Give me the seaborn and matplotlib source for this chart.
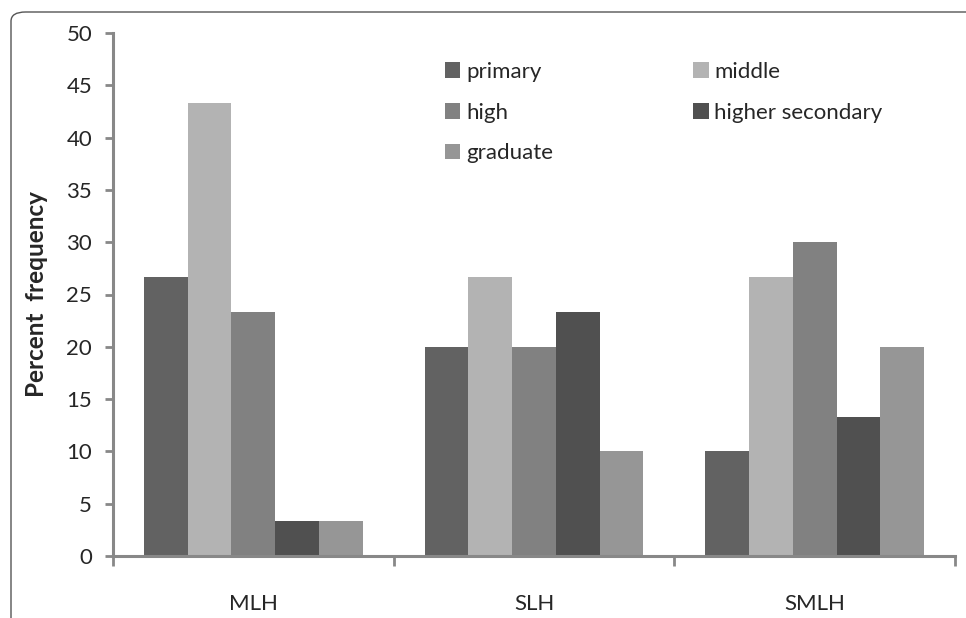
import numpy as np
import pandas as pd
import matplotlib
matplotlib.use("Agg")
import matplotlib.pyplot as plt
from matplotlib.patches import FancyBboxPatch
import seaborn as sns

# ── data ─────────────────────────────────────────────────────────────────────
groups = ["MLH", "SLH", "SMLH"]
levels = ["primary", "middle", "high", "higher secondary", "graduate"]
primary          = [26.7, 20.0, 10.0]
middle           = [43.3, 26.7, 26.7]
high             = [23.3, 20.0, 30.0]
higher_secondary = [3.3, 23.3, 13.3]
graduate         = [3.3, 10.0, 20.0]
yticks = [0, 5, 10, 15, 20, 25, 30, 35, 40, 45, 50]

colors = ["#626262", "#b3b3b3", "#818181", "#505050", "#969696"]

# ── build long table ─────────────────────────────────────────────────────────
series = [primary, middle, high, higher_secondary, graduate]
rows = []
for lvl, vals in zip(levels, series):
    for g, v in zip(groups, vals):
        rows.append({"group": g, "level": lvl, "value": v})
df = pd.DataFrame(rows)

# ── plot ─────────────────────────────────────────────────────────────────────
sns.set_style("white")
plt.rcParams["font.family"] = ["Lato", "DejaVu Sans"]

fig = plt.figure(figsize=(9.66, 6.18), dpi=100)
ax = fig.add_axes([113 / 966, 1 - 556 / 618, (955 - 113) / 966, (556 - 33) / 618])

sns.barplot(data=df, x="group", y="value", hue="level", hue_order=levels,
            order=groups, palette=colors, width=0.78, linewidth=0,
            saturation=1, ax=ax, legend=True)

axis_grey = "#888888"
ax.set_xlim(-0.5, 2.5)
ax.set_ylim(0, 50)
ax.set_yticks(yticks)
ax.tick_params(axis="y", direction="out", length=6, width=2, color=axis_grey,
               labelsize=16, pad=9, left=True)
ax.tick_params(axis="x", which="major", length=0, labelsize=16, pad=27)
ax.set_xticks([-0.5, 0.5, 1.5, 2.5], minor=True)
ax.tick_params(axis="x", which="minor", direction="out", length=7, width=2,
               color=axis_grey, bottom=True)

for side in ["top", "right"]:
    ax.spines[side].set_visible(False)
for side in ["left", "bottom"]:
    ax.spines[side].set_color(axis_grey)
    ax.spines[side].set_linewidth(2.2)

ax.set_xlabel("")
ax.set_ylabel("Percent  frequency", fontsize=17.5, fontweight="bold")
ax.yaxis.set_label_coords((48 - 113) / 842, 0.5)

# legend filled row-wise like the original
handles, labels = ax.get_legend_handles_labels()
order = [0, 2, 4, 1, 3]
ax.legend([handles[i] for i in order], [labels[i] for i in order],
          ncol=2, frameon=False, fontsize=16,
          loc="upper left", bbox_to_anchor=((436 - 113) / 842, (556 - 53) / 523),
          handlelength=0.7, handleheight=0.7, handletextpad=0.25,
          labelspacing=0.93, columnspacing=6.3, borderaxespad=0)

# rounded frame around the chart
frame = FancyBboxPatch((11 / 966, -0.1), 1.2, (1 - 12 / 618) + 0.1,
                       boxstyle="round,pad=0,rounding_size=0.015",
                       transform=fig.transFigure, fill=False,
                       edgecolor="#555555", linewidth=1.0, clip_on=False)
fig.patches.append(frame)

fig.savefig("out.png", dpi=100)
